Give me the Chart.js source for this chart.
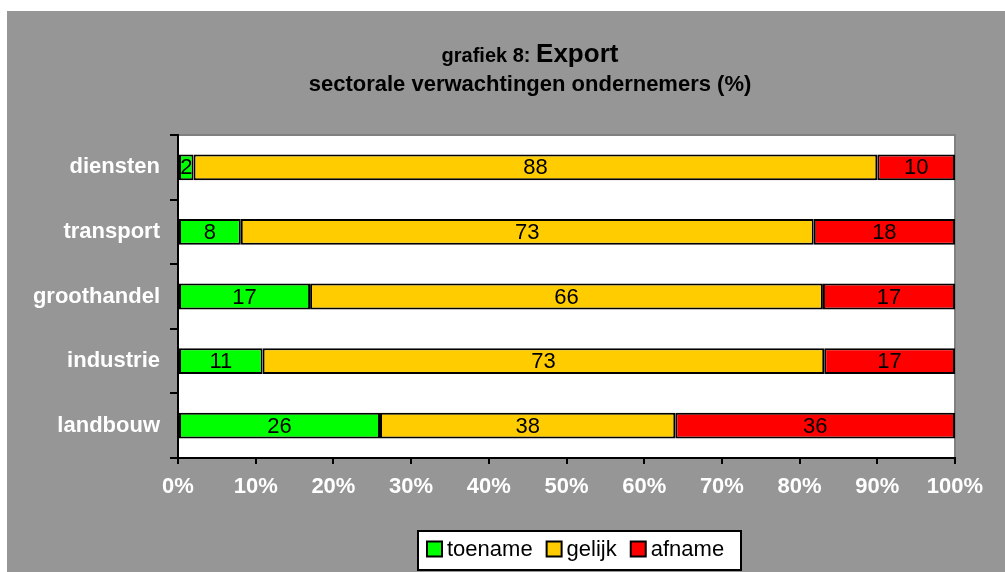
<!DOCTYPE html>
<html>
<head>
<meta charset="utf-8">
<script src="https://cdn.jsdelivr.net/npm/chart.js@4"></script>
<style>
  html, body { margin: 0; padding: 0; background: #fff; }
  #wrap { width: 1005px; height: 572px; }
</style>
</head>
<body>
<div id="wrap"><canvas id="myChart" width="1005" height="572"></canvas></div>
<script>
  const sectors = ["diensten", "transport", "groothandel", "industrie", "landbouw"];
  const toename = [2, 8, 17, 11, 26];
  const gelijk = [88, 73, 66, 73, 38];
  const afname = [10, 18, 17, 17, 36];
  const xTicks = [0, 10, 20, 30, 40, 50, 60, 70, 80, 90, 100];

  const FONT = "Arial, 'Liberation Sans', sans-serif";

  // 100% gestapeld: elke rij naar aandeel omrekenen
  function share(values, i) {
    const total = toename[i] + gelijk[i] + afname[i];
    return (values[i] / total) * 100;
  }

  const series = [
    { label: "toename", raw: toename, color: "#00ff00" },
    { label: "gelijk", raw: gelijk, color: "#ffcc00" },
    { label: "afname", raw: afname, color: "#ff0000" },
  ];

  const framePlugin = {
    id: "frame",
    beforeDraw(chart) {
      const { ctx, width, height, chartArea: a } = chart;
      ctx.save();
      ctx.fillStyle = "#ffffff";
      ctx.fillRect(0, 0, width, height);
      ctx.fillStyle = "#969696";
      ctx.fillRect(7, 11, width - 7, height - 11);
      ctx.fillStyle = "#ffffff";
      ctx.fillRect(a.left, a.top, a.right - a.left, a.bottom - a.top);
      ctx.strokeStyle = "#808080";
      ctx.lineWidth = 2;
      ctx.beginPath();
      ctx.moveTo(a.left, a.top);
      ctx.lineTo(a.right, a.top);
      ctx.lineTo(a.right, a.bottom);
      ctx.stroke();

      // titel
      ctx.fillStyle = "#000";
      ctx.textBaseline = "alphabetic";
      ctx.font = "bold 20px " + FONT;
      const t1 = "grafiek 8: ";
      const w1 = ctx.measureText(t1).width;
      ctx.font = "bold 26px " + FONT;
      const t2 = "Export";
      const w2 = ctx.measureText(t2).width;
      const cx = 530;
      const x = cx - (w1 + w2) / 2;
      ctx.font = "bold 20px " + FONT;
      ctx.textAlign = "left";
      ctx.fillText(t1, x, 62);
      ctx.font = "bold 26px " + FONT;
      ctx.fillText(t2, x + w1, 62);
      ctx.font = "bold 22px " + FONT;
      ctx.textAlign = "center";
      ctx.fillText("sectorale verwachtingen ondernemers (%)", cx, 91);
      ctx.restore();
    },
    afterDatasetsDraw(chart) {
      const { ctx } = chart;
      ctx.save();
      ctx.font = "22px " + FONT;
      ctx.fillStyle = "#000";
      ctx.textAlign = "center";
      ctx.textBaseline = "middle";
      chart.data.datasets.forEach((ds, di) => {
        chart.getDatasetMeta(di).data.forEach((bar, i) => {
          const mid = (bar.x + bar.base) / 2;
          ctx.fillText(String(ds.raw[i]), mid, bar.y + 1);
        });
      });
      ctx.restore();
    },
    afterDraw(chart) {
      // legenda
      const { ctx } = chart;
      ctx.save();
      ctx.font = "22px " + FONT;
      const box = 15, gapBox = 5, gapItem = 14;
      const lx = 418, ly = 531, lw = 323, lh = 39;
      ctx.fillStyle = "#fff";
      ctx.fillRect(lx, ly, lw, lh);
      ctx.strokeStyle = "#000";
      ctx.lineWidth = 2;
      ctx.strokeRect(lx, ly, lw, lh);
      let x = lx + 9;
      const cy = ly + 18;
      chart.data.datasets.forEach((ds) => {
        ctx.fillStyle = ds.backgroundColor;
        ctx.fillRect(x, cy - box / 2, box, box);
        ctx.lineWidth = 2;
        ctx.strokeRect(x, cy - box / 2, box, box);
        ctx.fillStyle = "#000";
        ctx.textAlign = "left";
        ctx.textBaseline = "middle";
        ctx.fillText(ds.label, x + box + gapBox, cy + 1);
        x += box + gapBox + ctx.measureText(ds.label).width + gapItem;
      });
      ctx.restore();
    },
  };

  const ctx = document.getElementById("myChart").getContext("2d");

  const chart = new Chart(ctx, {
    type: "bar",
    data: {
      labels: sectors,
      datasets: series.map((s) => ({
        label: s.label,
        raw: s.raw,
        data: sectors.map((_, i) => share(s.raw, i)),
        backgroundColor: s.color,
        borderColor: "#000",
        borderWidth: 2,
        borderSkipped: false,
        barPercentage: 0.4,
        categoryPercentage: 1,
      })),
    },
    plugins: [framePlugin],
    options: {
      indexAxis: "y",
      responsive: false,
      animation: false,
      layout: { padding: { left: 0, right: 50, top: 135, bottom: 74 } },
      plugins: {
        legend: { display: false },
        tooltip: { enabled: false },
      },
      scales: {
        x: {
          stacked: true,
          min: 0,
          max: 100,
          afterFit: (s) => { s.height = 40; },
          afterBuildTicks: (s) => { s.ticks = xTicks.map((v) => ({ value: v })); },
          border: { color: "#000", width: 2 },
          grid: { drawOnChartArea: false, drawTicks: true, tickLength: 6, color: "#000", lineWidth: 2 },
          ticks: {
            color: "#fff",
            padding: 10,
            font: { family: FONT, size: 22, weight: "bold" },
            callback: (v) => v + "%",
            maxRotation: 0,
            autoSkip: false,
          },
        },
        y: {
          stacked: true,
          afterFit: (s) => { s.width = 178; },
          border: { color: "#000", width: 2 },
          grid: { drawOnChartArea: false, drawTicks: true, tickLength: 8, color: "#000", lineWidth: 2, offset: true },
          ticks: {
            color: "#fff",
            padding: 10,
            font: { family: FONT, size: 22, weight: "bold" },
          },
        },
      },
    },
  });
</script>
</body>
</html>
